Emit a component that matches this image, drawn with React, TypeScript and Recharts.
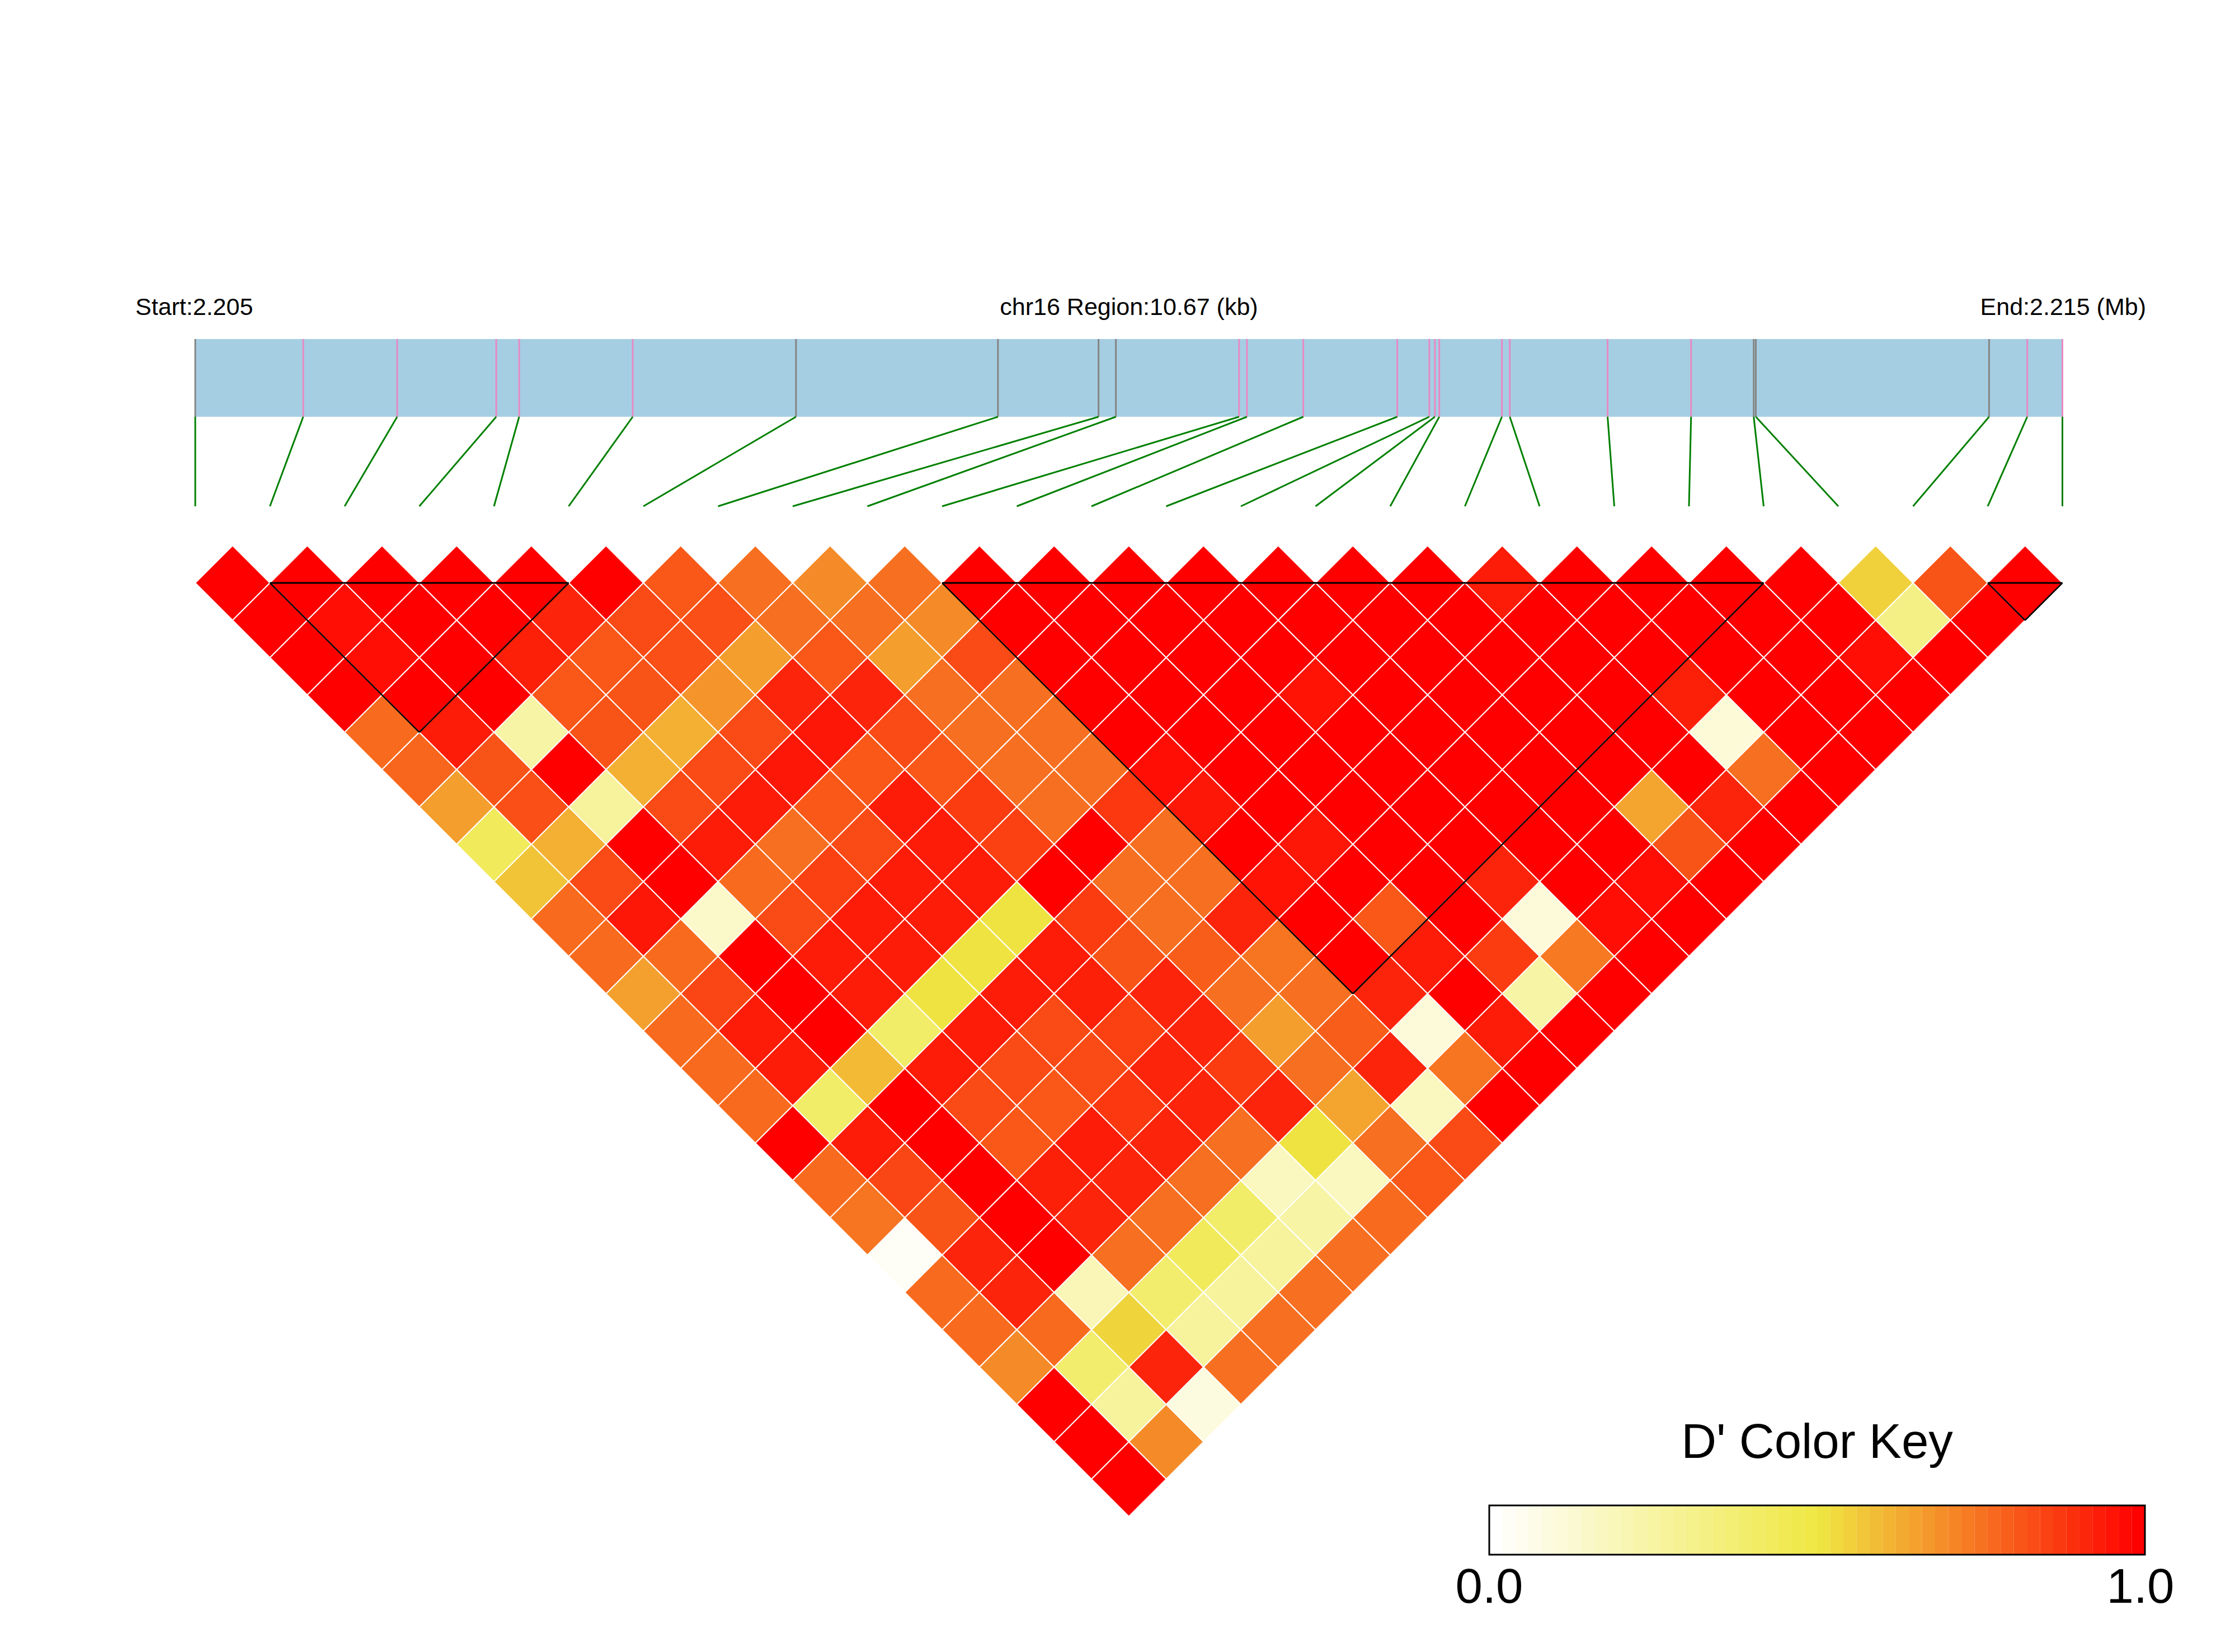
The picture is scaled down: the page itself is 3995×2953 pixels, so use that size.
import React from 'react';
import { ScatterChart, Scatter, XAxis, YAxis, ReferenceArea, ReferenceLine, Customized } from 'recharts';

// ---------- data ----------
const regionStart = 'Start:2.205';
const regionTitle = 'chr16 Region:10.67 (kb)';
const regionEnd = 'End:2.215 (Mb)';
const regionLengthKb = 10.67;

// physical SNP positions (kb from region start)
const snpPosKb = [0, 0.617, 1.154, 1.72, 1.851, 2.5, 3.433, 4.587, 5.162, 5.261, 5.965, 6.01, 6.332, 6.869,
  7.052, 7.084, 7.109, 7.467, 7.512, 8.071, 8.548, 8.906, 8.918, 10.251, 10.469, 10.67];
// marker type in the gene bar: g = grey, p = pink
const snpMarkerType = ['g', 'p', 'p', 'p', 'p', 'p', 'g', 'g', 'g', 'g', 'p', 'p', 'p', 'p', 'p', 'p', 'p', 'p',
  'p', 'p', 'p', 'g', 'g', 'g', 'p', 'p'];

// haplotype blocks (first SNP index, last SNP index)
const blocks: [number, number][] = [[1, 5], [10, 21], [24, 25]];

// D' values, row d holds pairs (i, i + d)
const ld01 = [1, 1, 1, 1, 1, 1, 0.81, 0.76, 0.7, 0.76, 1, 1, 1, 1, 1, 1, 1, 0.94, 1, 1, 1, 1, 0.55, 0.82, 1];
const ld02 = [1, 0.97, 1, 1, 0.92, 0.84, 0.83, 0.76, 0.76, 0.7, 1, 1, 1, 1, 1, 1, 1, 1, 1, 1, 1, 1, 0.32, 1];
const ld03 = [1, 0.97, 1, 0.93, 0.81, 0.83, 0.66, 0.81, 0.66, 0.84, 1, 1, 1, 1, 1, 1, 1, 1, 1, 1, 1, 0.97, 1];
const ld04 = [1, 1, 1, 0.81, 0.82, 0.68, 0.92, 0.92, 0.76, 0.76, 1, 1, 1, 0.96, 1, 1, 1, 1, 0.93, 1, 1, 1];
const ld05 = [0.77, 0.94, 0.235, 0.82, 0.62, 0.84, 0.95, 0.84, 0.76, 0.76, 1, 1, 1, 1, 1, 1, 1, 1, 0.105, 1, 1];
const ld06 = [0.78, 0.82, 1, 0.62, 0.84, 0.95, 0.81, 0.81, 0.76, 0.76, 0.97, 1, 1, 1, 1, 1, 1, 1, 0.76, 1];
const ld07 = [0.66, 0.83, 0.26, 0.84, 0.94, 0.81, 0.94, 0.87, 0.76, 0.88, 0.95, 1, 1, 1, 1, 1, 0.645, 0.92, 1];
const ld08 = [0.43, 0.62, 1, 0.94, 0.76, 0.84, 0.94, 0.86, 1, 0.76, 1, 0.95, 1, 1, 1, 1, 0.82, 1];
const ld09 = [0.578, 0.84, 1, 0.77, 0.86, 0.94, 0.94, 1, 0.76, 0.76, 0.96, 1, 1, 0.92, 1, 0.97, 1];
const ld10 = [0.77, 0.95, 0.14, 0.84, 0.94, 0.94, 0.51, 0.87, 0.76, 0.92, 1, 0.81, 1, 0.1, 0.97, 1];
const ld11 = [0.77, 0.77, 1, 0.94, 0.94, 0.51, 0.94, 0.82, 0.8, 0.75, 1, 0.94, 0.87, 0.74, 1];
const ld12 = [0.655, 0.85, 1, 0.94, 0.51, 0.94, 0.93, 0.92, 0.76, 0.76, 0.92, 1, 0.235, 1];
const ld13 = [0.77, 0.94, 1, 0.4, 0.94, 0.84, 0.86, 0.92, 0.66, 0.8, 0.1, 0.94, 1];
const ld14 = [0.77, 0.94, 0.6, 0.94, 0.84, 0.84, 0.92, 0.87, 0.76, 0.92, 0.75, 1];
const ld15 = [0.77, 0.4, 1, 0.84, 0.81, 0.88, 0.92, 0.92, 0.644, 0.17, 1];
const ld16 = [1, 0.94, 1, 0.81, 0.94, 0.92, 0.76, 0.51, 0.76, 0.84];
const ld17 = [0.77, 0.85, 1, 0.93, 0.92, 0.76, 0.17, 0.17, 0.81];
const ld18 = [0.75, 0.82, 1, 0.92, 0.76, 0.4, 0.235, 0.77];
const ld19 = [0.024, 0.92, 1, 0.76, 0.43, 0.26, 0.76];
const ld20 = [0.77, 0.92, 0.19, 0.386, 0.26, 0.76];
const ld21 = [0.77, 0.77, 0.543, 0.26, 0.76];
const ld22 = [0.7, 0.386, 0.92, 0.76];
const ld23 = [1, 0.26, 0.084];
const ld24 = [1, 0.7];
const ld25 = [1];

const keyTitle = "D' Color Key";
const keyTicks = ['0.0', '1.0'];
const keyBandCount = 50;

// ---------- layout ----------
const W = 3995;
const H = 2953;
const X0 = -2.6142, X1 = 27.3109; // SNP-index units
const Y0 = -14.6105, Y1 = 29.6292; // row units
const pxPerU = W / (X1 - X0);
const pxPerV = H / (Y1 - Y0);
const uOf = (px: number) => X0 + px / pxPerU;
const vOf = (py: number) => Y0 + py / pxPerV;

const barTop = vOf(606);
const barBottom = vOf(745);
const linkBottom = vOf(905);
const keyLeft = 2662, keyRight = 3834, keyTop = 2691, keyBottom = 2779;

const FONT = '"Liberation Sans", Arial, Helvetica, sans-serif';

function dColor(d: number): string {
  const lo = [255, 255, 255];
  const mid = [239, 232, 66];
  const hi = [255, 0, 0];
  let a = lo, b = mid, t = d / 0.5;
  if (d > 0.5) { a = mid; b = hi; t = (d - 0.5) / 0.5; }
  const c = a.map((v, k) => Math.round(v + (b[k] - v) * t));
  return `rgb(${c[0]},${c[1]},${c[2]})`;
}

const ldRows = [ld01, ld02, ld03, ld04, ld05, ld06, ld07, ld08, ld09, ld10, ld11, ld12, ld13, ld14, ld15,
  ld16, ld17, ld18, ld19, ld20, ld21, ld22, ld23, ld24, ld25];

const cells = ldRows.flatMap((row, r) =>
  row.map((dp, i) => ({ x: i + (r + 1) / 2, y: r + 1, dp })));

const nSnp = snpPosKb.length;
const physU = snpPosKb.map((p) => (p / regionLengthKb) * (nSnp - 1));

const Diamond = (props: any) => {
  const { cx, cy, payload } = props;
  if (cx == null || cy == null) return null;
  const hw = pxPerU / 2;
  const hh = pxPerV;
  const pts = `${cx},${cy - hh} ${cx + hw},${cy} ${cx},${cy + hh} ${cx - hw},${cy}`;
  return <polygon points={pts} fill={dColor(payload.dp)} stroke="#ffffff" strokeWidth={2} />;
};

const Texts = () => (
  <g fontFamily={FONT} fill="#000">
    <text x={242} y={563} fontSize={43} textAnchor="start">{regionStart}</text>
    <text x={2018} y={563} fontSize={43} textAnchor="middle">{regionTitle}</text>
    <text x={3836} y={563} fontSize={43} textAnchor="end">{regionEnd}</text>
    <text x={(keyLeft + keyRight) / 2} y={2606} fontSize={87} textAnchor="middle">{keyTitle}</text>
    <text x={keyLeft} y={2865} fontSize={87} textAnchor="middle">{keyTicks[0]}</text>
    <text x={keyRight - 8} y={2865} fontSize={87} textAnchor="middle">{keyTicks[1]}</text>
  </g>
);

const bands = Array.from({ length: keyBandCount }, (_, k) => k);

export default function App() {
  const kx1 = uOf(keyLeft), kx2 = uOf(keyRight);
  const ky1 = vOf(keyTop), ky2 = vOf(keyBottom);
  const bw = (kx2 - kx1) / keyBandCount;
  return (
    <div style={{ position: 'absolute', left: 0, top: 0, width: W, height: H, background: '#fff' }}>
      <ScatterChart width={W} height={H} margin={{ top: 0, right: 0, bottom: 0, left: 0 }}>
        <XAxis type="number" dataKey="x" domain={[X0, X1]} allowDataOverflow hide />
        <YAxis type="number" dataKey="y" domain={[Y0, Y1]} allowDataOverflow reversed hide />
        <ReferenceArea x1={0} x2={nSnp - 1} y1={barTop} y2={barBottom} fill="#a6cee3" fillOpacity={1} stroke="none" ifOverflow="visible" />
        {physU.map((u, k) => (
          <ReferenceLine key={`m${k}`} segment={[{ x: u, y: barTop }, { x: u, y: barBottom }]}
            stroke={snpMarkerType[k] === 'g' ? '#858585' : '#e78ac3'} strokeWidth={3} ifOverflow="visible" />
        ))}
        {physU.map((u, k) => (
          <ReferenceLine key={`l${k}`} segment={[{ x: u, y: barBottom }, { x: k, y: linkBottom }]}
            stroke="#008000" strokeWidth={3} ifOverflow="visible" />
        ))}
        <Scatter data={cells} shape={Diamond} isAnimationActive={false} />
        {blocks.flatMap(([a, b], k) => {
          const apex = { x: (a + b) / 2, y: 1 + (b - a) };
          return [
            <ReferenceLine key={`bt${k}`} segment={[{ x: a, y: 1 }, { x: b, y: 1 }]} stroke="#000" strokeWidth={3} ifOverflow="visible" zIndex={1500} />,
            <ReferenceLine key={`bl${k}`} segment={[{ x: a, y: 1 }, apex]} stroke="#000" strokeWidth={2.5} ifOverflow="visible" zIndex={1500} />,
            <ReferenceLine key={`br${k}`} segment={[{ x: b, y: 1 }, apex]} stroke="#000" strokeWidth={2.5} ifOverflow="visible" zIndex={1500} />,
          ];
        })}
        {bands.map((k) => (
          <ReferenceArea key={`kb${k}`} x1={kx1 + k * bw} x2={kx1 + (k + 1) * bw + 0.001} y1={ky1} y2={ky2}
            fill={dColor(k / (keyBandCount - 1))} fillOpacity={1} stroke="none" ifOverflow="visible" />
        ))}
        <ReferenceArea x1={kx1} x2={kx2} y1={ky1} y2={ky2} fill="none" fillOpacity={0} stroke="#000" strokeWidth={3} ifOverflow="visible" />
        <Customized component={<Texts />} />
      </ScatterChart>
    </div>
  );
}
